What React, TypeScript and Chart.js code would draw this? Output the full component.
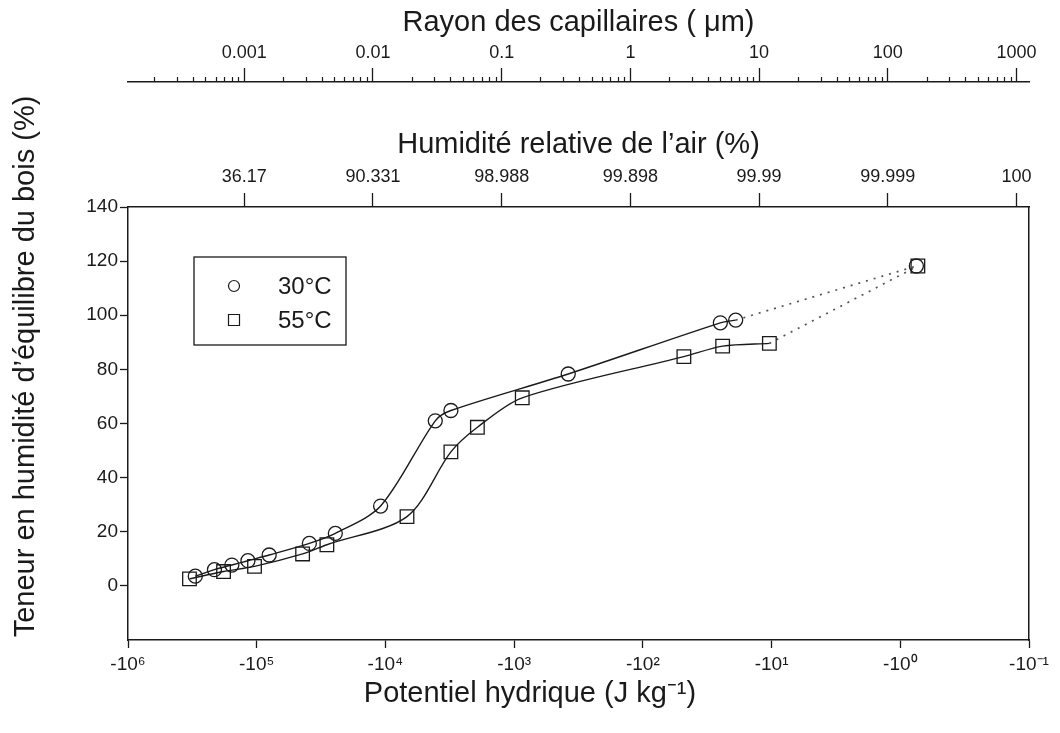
import React, { useEffect, useRef } from 'react';
import { Chart, registerables } from 'chart.js';

Chart.register(...registerables);

const FONT = "'Liberation Sans', Arial, Helvetica, sans-serif";
const INK = '#1a1a1a';

// Données : potentiel hydrique (J/kg) et teneur en humidité d'équilibre (%)
const seriesLabels = ['30°C', '55°C'];

const potential30 = [-3.0e5, -2.13e5, -1.56e5, -1.17e5, -8.0e4, -3.9e4, -2.45e4, -1.09e4, -4.1e3, -3.1e3, -380, -25, -19];
const moisture30 = [3.6, 6.0, 7.7, 9.3, 11.4, 15.7, 19.4, 29.5, 61.0, 64.8, 78.3, 97.2, 98.2];

const potential55 = [-3.33e5, -1.81e5, -1.04e5, -4.4e4, -2.85e4, -6.8e3, -3.1e3, -1.93e3, -865, -48, -24, -10.4];
const moisture55 = [2.6, 5.3, 7.2, 11.8, 15.2, 25.6, 49.5, 58.6, 69.5, 84.7, 88.6, 89.6];

// Point à saturation (relié en pointillés)
const saturationPotential30 = -0.75;
const saturationMoisture30 = 118.2;
const saturationPotential55 = -0.73;
const saturationMoisture55 = 118.2;

// Axes
const potentialRange = [-1e6, -1e-1];
const potentialTickValues = [-1e6, -1e5, -1e4, -1e3, -1e2, -1e1, -1e0, -1e-1];
const potentialTickLabels = ['-10⁶', '-10⁵', '-10⁴', '-10³', '-10²', '-10¹', '-10⁰', '-10⁻¹'];

const humidityTickPotentials = [-1.25e5, -1.25e4, -1.25e3, -125, -12.5, -1.25, -0.125];
const humidityTickLabels = ['36.17', '90.331', '98.988', '99.898', '99.99', '99.999', '100'];

const radiusAxisRange = [1.25e-4, 1250];
const radiusTickValues = [0.001, 0.01, 0.1, 1, 10, 100, 1000];
const radiusTickLabels = ['0.001', '0.01', '0.1', '1', '10', '100', '1000'];
const radiusMinorDecades = [0.0001, 0.001, 0.01, 0.1, 1, 10, 100, 1000];
const radiusMinorSteps = [2, 3, 4, 5, 6, 7, 8, 9];

const moistureRange = [-20, 140];
const moistureTicks = [0, 20, 40, 60, 80, 100, 120, 140];

const toPoints = (ps: number[], ms: number[]) => ps.map((p, i) => ({ x: -p, y: ms[i] }));

const findLabel = (value: number, values: number[], labels: string[]) => {
  for (let i = 0; i < values.length; i++) {
    if (Math.abs(Math.log10(Math.abs(values[i])) - Math.log10(Math.abs(value))) < 1e-6) return labels[i];
  }
  return '';
};

const minorTickPlugin = {
  id: 'radiusMinorTicks',
  afterDraw(chart: any) {
    const s = chart.scales.xR;
    if (!s) return;
    const ctx = chart.ctx;
    ctx.save();
    ctx.strokeStyle = INK;
    ctx.lineWidth = 1.2;
    for (const d of radiusMinorDecades) {
      for (const m of radiusMinorSteps) {
        const v = m * d;
        if (v < s.min || v > s.max) continue;
        const px = Math.round(s.getPixelForValue(v)) + 0.5;
        ctx.beginPath();
        ctx.moveTo(px, s.bottom);
        ctx.lineTo(px, s.bottom - 5);
        ctx.stroke();
      }
    }
    ctx.restore();
  },
};

const legendBoxPlugin = {
  id: 'legendBox',
  afterDatasetsDraw(chart: any) {
    const { ctx, chartArea } = chart;
    const x0 = chartArea.left + 66;
    const y0 = chartArea.top + 50;
    const w = 152;
    const h = 88;
    ctx.save();
    ctx.fillStyle = '#ffffff';
    ctx.fillRect(x0, y0, w, h);
    ctx.strokeStyle = INK;
    ctx.lineWidth = 1.3;
    ctx.strokeRect(x0, y0, w, h);
    [0, 1].forEach((i) => {
      const ds = chart.data.datasets[i];
      const cy = y0 + 29 + i * 34;
      const cx = x0 + 40;
      ctx.strokeStyle = INK;
      ctx.lineWidth = 1.2;
      ctx.beginPath();
      if (ds.pointStyle === 'rect') {
        ctx.rect(cx - 5.5, cy - 5.5, 11, 11);
      } else {
        ctx.arc(cx, cy, 5.5, 0, Math.PI * 2);
      }
      ctx.stroke();
      ctx.fillStyle = INK;
      ctx.font = `24px ${FONT}`;
      ctx.textAlign = 'left';
      ctx.textBaseline = 'middle';
      ctx.fillText(ds.label, x0 + 84, cy + 1);
    });
    ctx.restore();
  },
};

export default function App() {
  const canvasRef = useRef<HTMLCanvasElement | null>(null);

  useEffect(() => {
    if (!canvasRef.current) return;
    Chart.defaults.font.family = FONT;
    Chart.defaults.color = INK;

    const last30 = potential30.length - 1;
    const last55 = potential55.length - 1;

    const chart = new Chart(canvasRef.current, {
      type: 'line',
      data: {
        datasets: [
          {
            label: seriesLabels[0],
            data: toPoints(potential30, moisture30),
            borderColor: INK,
            borderWidth: 1.4,
            pointStyle: 'circle',
            pointRadius: 7,
            pointBorderWidth: 1.3,
            pointBorderColor: INK,
            pointBackgroundColor: 'rgba(0,0,0,0)',
            tension: 0.3,
            fill: false,
            xAxisID: 'x',
            yAxisID: 'y',
          },
          {
            label: seriesLabels[1],
            data: toPoints(potential55, moisture55),
            borderColor: INK,
            borderWidth: 1.4,
            pointStyle: 'rect',
            pointRadius: 9.6,
            pointBorderWidth: 1.3,
            pointBorderColor: INK,
            pointBackgroundColor: 'rgba(0,0,0,0)',
            tension: 0.3,
            fill: false,
            xAxisID: 'x',
            yAxisID: 'y',
          },
          {
            label: seriesLabels[0] + ' saturation',
            data: [
              { x: -potential30[last30], y: moisture30[last30] },
              { x: -saturationPotential30, y: saturationMoisture30 },
            ],
            borderColor: '#555555',
            borderWidth: 1.7,
            borderDash: [2, 6],
            tension: 0,
            pointStyle: 'circle',
            pointRadius: [0, 7],
            pointBorderWidth: 1.3,
            pointBorderColor: INK,
            pointBackgroundColor: 'rgba(0,0,0,0)',
            fill: false,
            xAxisID: 'x',
            yAxisID: 'y',
          },
          {
            label: seriesLabels[1] + ' saturation',
            data: [
              { x: -potential55[last55], y: moisture55[last55] },
              { x: -saturationPotential55, y: saturationMoisture55 },
            ],
            borderColor: '#555555',
            borderWidth: 1.7,
            borderDash: [2, 6],
            tension: 0,
            pointStyle: 'rect',
            pointRadius: [0, 9.6],
            pointBorderWidth: 1.3,
            pointBorderColor: INK,
            pointBackgroundColor: 'rgba(0,0,0,0)',
            fill: false,
            xAxisID: 'x',
            yAxisID: 'y',
          },
        ],
      },
      options: {
        responsive: false,
        maintainAspectRatio: false,
        animation: false,
        devicePixelRatio: 1,
        layout: { padding: 0 },
        plugins: {
          legend: { display: false },
          tooltip: { enabled: false },
          title: {
            display: true,
            position: 'left',
            text: 'Teneur en humidité d’équilibre du bois (%)',
            color: INK,
            font: { family: FONT, size: 29, weight: 'normal' },
            padding: { top: 8.6, bottom: 0 },
          },
          subtitle: {
            display: true,
            position: 'bottom',
            text: 'Potentiel hydrique (J kg⁻¹)',
            color: INK,
            font: { family: FONT, size: 29, weight: 'normal' },
            padding: { top: 0, bottom: 22 },
          },
        },
        scales: {
          x: {
            type: 'logarithmic',
            position: 'bottom',
            reverse: true,
            bounds: 'data',
            min: -potentialRange[1],
            max: -potentialRange[0],
            weight: 0,
            afterBuildTicks: (s: any) => {
              s.ticks = potentialTickValues.map((v) => ({ value: -v }));
            },
            afterFit: (s: any) => {
              s.height = 36.2;
            },
            border: { display: true, color: INK, width: 1.5 },
            grid: { display: true, drawOnChartArea: false, drawTicks: true, tickLength: 8, tickColor: INK, tickWidth: 1.3 },
            ticks: {
              autoSkip: false,
              maxRotation: 0,
              minRotation: 0,
              padding: 5,
              color: INK,
              font: { family: FONT, size: 19 },
              callback: (v: any) => findLabel(Number(v), potentialTickValues, potentialTickLabels),
            },
          },
          xRH: {
            type: 'logarithmic',
            position: 'top',
            reverse: true,
            bounds: 'data',
            min: -potentialRange[1],
            max: -potentialRange[0],
            weight: 1,
            afterBuildTicks: (s: any) => {
              s.ticks = humidityTickPotentials.map((v) => ({ value: -v }));
            },
            afterFit: (s: any) => {
              s.height = 125;
            },
            border: { display: true, color: INK, width: 1.5 },
            grid: { display: true, drawOnChartArea: false, drawTicks: true, tickLength: 14, tickColor: INK, tickWidth: 1.3 },
            ticks: {
              autoSkip: false,
              maxRotation: 0,
              minRotation: 0,
              padding: 5,
              color: INK,
              font: { family: FONT, size: 18 },
              callback: (v: any) => findLabel(Number(v), humidityTickPotentials, humidityTickLabels),
            },
            title: {
              display: true,
              text: 'Humidité relative de l’air (%)',
              color: INK,
              font: { family: FONT, size: 29 },
              padding: { top: 45.6, bottom: 0 },
            },
          },
          xR: {
            type: 'logarithmic',
            position: 'top',
            reverse: false,
            bounds: 'data',
            min: radiusAxisRange[0],
            max: radiusAxisRange[1],
            weight: 2,
            afterBuildTicks: (s: any) => {
              s.ticks = radiusTickValues.map((v) => ({ value: v }));
            },
            afterFit: (s: any) => {
              s.height = 82;
            },
            border: { display: true, color: INK, width: 1.5 },
            grid: { display: true, drawOnChartArea: false, drawTicks: true, tickLength: 14, tickColor: INK, tickWidth: 1.3 },
            ticks: {
              autoSkip: false,
              maxRotation: 0,
              minRotation: 0,
              padding: 4,
              color: INK,
              font: { family: FONT, size: 18 },
              callback: (v: any) => findLabel(Number(v), radiusTickValues, radiusTickLabels),
            },
            title: {
              display: true,
              text: 'Rayon des capillaires ( μm)',
              color: INK,
              font: { family: FONT, size: 29 },
              padding: { top: 5.6, bottom: 0 },
            },
          },
          y: {
            type: 'linear',
            position: 'left',
            min: moistureRange[0],
            max: moistureRange[1],
            afterBuildTicks: (s: any) => {
              s.ticks = moistureTicks.map((v) => ({ value: v }));
            },
            afterFit: (s: any) => {
              s.width = 84.6;
            },
            border: { display: true, color: INK, width: 1.5 },
            grid: { display: true, drawOnChartArea: false, drawTicks: true, tickLength: 8, tickColor: INK, tickWidth: 1.3 },
            ticks: {
              padding: 2,
              color: INK,
              font: { family: FONT, size: 19 },
            },
          },
          y2: {
            type: 'linear',
            position: 'right',
            min: moistureRange[0],
            max: moistureRange[1],
            afterFit: (s: any) => {
              s.width = 31;
            },
            border: { display: true, color: INK, width: 1.5 },
            grid: { display: true, drawOnChartArea: false, drawTicks: false },
            ticks: { display: false },
          },
        },
      },
      plugins: [minorTickPlugin, legendBoxPlugin],
    } as any);

    return () => chart.destroy();
  }, []);

  return (
    <div style={{ position: 'absolute', left: 0, top: 0, width: 1060, height: 733, background: '#ffffff' }}>
      <canvas ref={canvasRef} width={1060} height={733} style={{ display: 'block', width: 1060, height: 733 }} />
    </div>
  );
}
